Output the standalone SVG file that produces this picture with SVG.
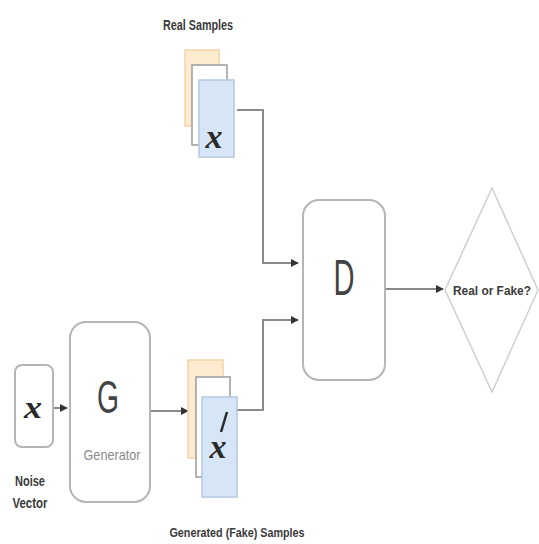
<svg xmlns="http://www.w3.org/2000/svg" width="539" height="544" viewBox="0 0 539 544">
<defs>
<style>
.box{fill:#fff;stroke:#b5b5b5;stroke-width:2}
.dia{fill:#fff;stroke:#cfcfcf;stroke-width:1.5}
.orange{fill:#fdebd0;stroke:#f1d3a6;stroke-width:1.5}
.mid{fill:#fff;stroke:#9a9a9a;stroke-width:1.5}
.blue{fill:#d7e6f7;stroke:#b3c9e2;stroke-width:1.5}
.con{fill:none;stroke:#8a8a8a;stroke-width:2}
.lbl{font-family:"Liberation Sans",Arial,sans-serif;font-weight:bold;fill:#3a3a3a}
.big{font-family:"Liberation Sans",Arial,sans-serif;fill:#444}
.var{font-family:"Liberation Serif","Times New Roman",serif;font-style:italic;font-weight:bold;fill:#2a2a2a}
</style>
<marker id="ah" viewBox="0 0 10 10" refX="9" refY="5" markerWidth="4" markerHeight="4" orient="auto" markerUnits="strokeWidth">
<path d="M0,0 L10,5 L0,10 z" fill="#333"/>
</marker>
</defs>
<rect width="539" height="544" fill="#fff"/>

<g id="connectors">
<path class="con" d="M53,408 L67,408" marker-end="url(#ah)"/>
<path class="con" d="M150,411 L188,411" marker-end="url(#ah)"/>
<path class="con" d="M237,110 L263,110 L263,263 L298,263" marker-end="url(#ah)"/>
<path class="con" d="M237,410 L263,410 L263,320 L298,320" marker-end="url(#ah)"/>
<path class="con" d="M385,289 L443,289" marker-end="url(#ah)"/>
</g>

<g id="real-samples">
<text class="lbl" x="198" y="30" font-size="14" text-anchor="middle" textLength="70" lengthAdjust="spacingAndGlyphs">Real Samples</text>
<rect class="orange" x="185" y="50" width="34" height="76"/>
<rect class="mid" x="192" y="65" width="35" height="80"/>
<rect class="blue" x="199" y="80" width="35" height="77"/>
<text class="var" x="214" y="148" font-size="34" text-anchor="middle" textLength="17" lengthAdjust="spacingAndGlyphs">x</text>
</g>

<g id="noise-vector">
<rect class="box" x="15" y="365" width="38" height="82" rx="7"/>
<text class="var" x="33" y="418" font-size="32" text-anchor="middle" textLength="18" lengthAdjust="spacingAndGlyphs">x</text>
<text class="lbl" x="30" y="486" font-size="14" text-anchor="middle" textLength="30" lengthAdjust="spacingAndGlyphs">Noise</text>
<text class="lbl" x="30" y="508" font-size="14" text-anchor="middle" textLength="35" lengthAdjust="spacingAndGlyphs">Vector</text>
</g>

<g id="generator">
<rect class="box" x="70" y="322" width="80" height="180" rx="16"/>
<text class="big" x="108" y="413" font-size="46" text-anchor="middle" textLength="22" lengthAdjust="spacingAndGlyphs">G</text>
<text class="big" x="112" y="460" font-size="15" style="fill:#8a8a8a" text-anchor="middle" textLength="57" lengthAdjust="spacingAndGlyphs">Generator</text>
</g>

<g id="fake-samples">
<rect class="orange" x="188" y="360" width="35" height="98"/>
<rect class="mid" x="196" y="377" width="34" height="100"/>
<rect class="blue" x="202" y="397" width="35" height="100"/>
<text class="var" x="218" y="458" font-size="34" text-anchor="middle" textLength="17" lengthAdjust="spacingAndGlyphs">x</text>
<path d="M227,412 L221,432" stroke="#2a2a2a" stroke-width="2.5" fill="none"/>
<text class="lbl" x="237" y="537" font-size="13" text-anchor="middle" textLength="135" lengthAdjust="spacingAndGlyphs">Generated (Fake) Samples</text>
</g>

<g id="discriminator">
<rect class="box" x="303" y="200" width="82" height="180" rx="16"/>
<text class="big" x="344" y="295" font-size="50" text-anchor="middle" textLength="21" lengthAdjust="spacingAndGlyphs">D</text>
</g>

<g id="decision">
<polygon class="dia" points="492,188 538,290 492,392 445,290"/>
<text class="lbl" x="492" y="295" font-size="13" text-anchor="middle" textLength="78" lengthAdjust="spacingAndGlyphs">Real or Fake?</text>
</g>
</svg>
